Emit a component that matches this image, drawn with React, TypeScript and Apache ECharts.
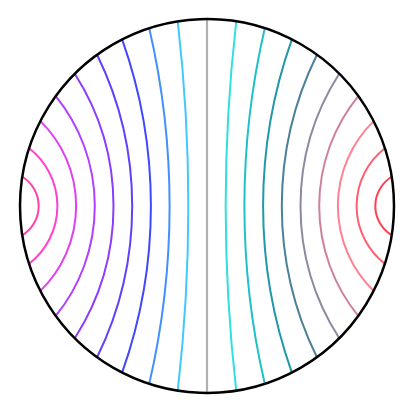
import React, { useEffect, useRef } from "react";
import * as echarts from "echarts";

// crossing points of each arc on the horizontal diameter (unit disk)
const leftLevels = [-0.9, -0.8, -0.7, -0.6, -0.5, -0.4, -0.3, -0.2, -0.1];
const rightLevels = [0.1, 0.2, 0.3, 0.4, 0.5, 0.6, 0.7, 0.8, 0.9];
// angle (deg, from vertical) where each arc meets the boundary circle
const leftEndAngles = [81, 72, 63, 54, 45, 36, 27, 18, 9];
const rightEndAngles = [9, 18, 27, 36, 45, 54, 63, 72, 81];
const leftColors = ["#ff40a8", "#ff40d0", "#e040f0", "#b040ff", "#8c3cff", "#6040ff", "#4048ff", "#4090ff", "#40c8ff"];
const rightColors = ["#30e0e0", "#20c0c8", "#2098a8", "#4a8098", "#9088a0", "#d08098", "#ff8090", "#ff6070", "#ff4050"];
const centerColor = "#b0b0b0";
const boundaryColor = "#000000";

export default function App() {
  const ref = useRef<HTMLDivElement>(null);
  useEffect(() => {
    if (!ref.current) return;
    const chart = echarts.init(ref.current, null, { renderer: "svg" });
    const arcData = [
      ...leftLevels.map((v, i) => [v, leftEndAngles[i], leftColors[i]]),
      ...rightLevels.map((v, i) => [v, rightEndAngles[i], rightColors[i]]),
    ];
    chart.setOption({
      animation: false,
      grid: { left: 20, right: 21, top: 19, bottom: 22 },
      xAxis: { type: "value", min: -1, max: 1, show: false },
      yAxis: { type: "value", min: -1, max: 1, show: false },
      series: [
        {
          type: "custom",
          coordinateSystem: "cartesian2d",
          data: arcData,
          encode: { x: 0 },
          renderItem: (params: any, api: any) => {
            const item = arcData[params.dataIndex];
            const x0 = item[0] as number;
            const th = ((item[1] as number) * Math.PI) / 180;
            const color = item[2] as string;
            const ax = Math.abs(x0);
            const s = Math.sin(th);
            const cdat = (1 - ax * ax) / (2 * (s - ax));
            const rdat = cdat - ax;
            const alpha = Math.atan2(Math.cos(th), cdat - s);
            const sign = x0 < 0 ? -1 : 1;
            const center = api.coord([sign * cdat, 0]);
            const rpx = api.size([rdat, 0])[0];
            const start = sign > 0 ? Math.PI - alpha : -alpha;
            const end = sign > 0 ? Math.PI + alpha : alpha;
            return {
              type: "arc",
              shape: { cx: center[0], cy: center[1], r: rpx, startAngle: start, endAngle: end, clockwise: true },
              style: { stroke: color, lineWidth: 2, fill: "none" },
            };
          },
        },
        {
          type: "custom",
          coordinateSystem: "cartesian2d",
          data: [[0, 1, 0, -1]],
          renderItem: (params: any, api: any) => {
            const p1 = api.coord([api.value(0), api.value(1)]);
            const p2 = api.coord([api.value(2), api.value(3)]);
            return {
              type: "line",
              shape: { x1: p1[0], y1: p1[1], x2: p2[0], y2: p2[1] },
              style: { stroke: centerColor, lineWidth: 2.2 },
            };
          },
        },
        {
          type: "custom",
          coordinateSystem: "cartesian2d",
          data: [[0, 0, 1]],
          renderItem: (params: any, api: any) => {
            const c = api.coord([api.value(0), api.value(1)]);
            const r = api.size([api.value(2), 0])[0];
            return {
              type: "circle",
              shape: { cx: c[0], cy: c[1], r },
              style: { stroke: boundaryColor, lineWidth: 2.5, fill: "none" },
            };
          },
        },
      ],
    });
    return () => chart.dispose();
  }, []);
  return (
    <div
      ref={ref}
      style={{ position: "absolute", left: 0, top: 0, width: 415, height: 415, background: "#fff" }}
    />
  );
}
